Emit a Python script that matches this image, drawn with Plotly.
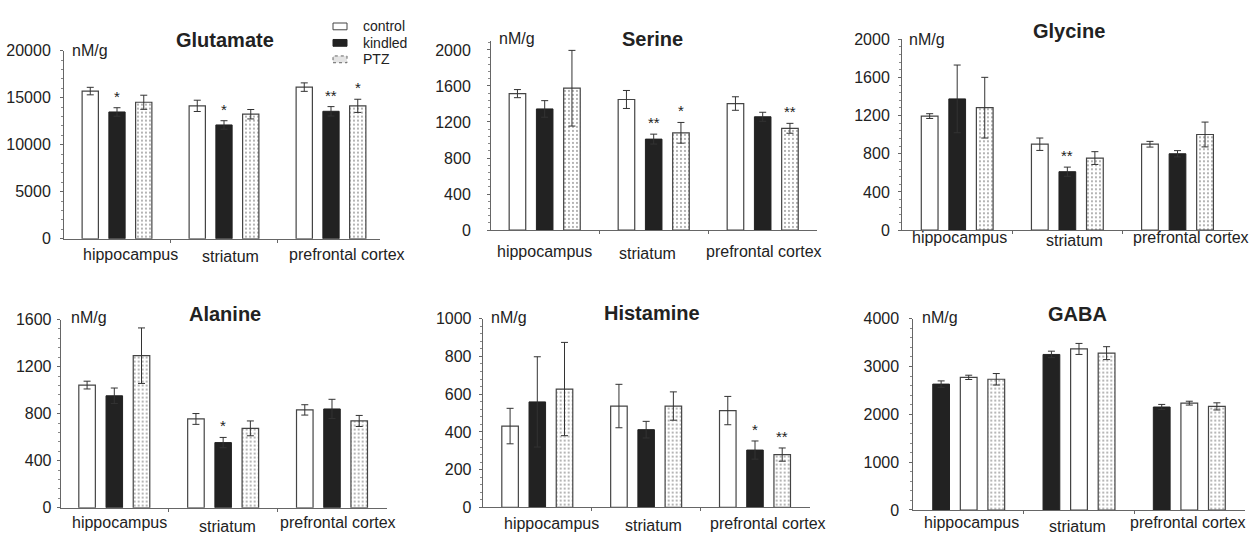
import plotly.graph_objects as go

# ---------------- data ----------------
regions = ["hippocampus", "striatum", "prefrontal cortex"]
groups = ["control", "kindled", "PTZ"]

glutamate_mean = {"control": [15700, 14130, 16120], "kindled": [13480, 12100, 13550], "PTZ": [14510, 13240, 14130]}
glutamate_err = {"control": [400, 600, 450], "kindled": [450, 450, 500], "PTZ": [750, 500, 700]}
glutamate_stars = [("kindled", 0, "*"), ("kindled", 1, "*"), ("kindled", 2, "**"), ("PTZ", 2, "*")]

serine_mean = {"control": [1515, 1450, 1405], "kindled": [1345, 1010, 1258], "PTZ": [1575, 1080, 1130]}
serine_err = {"control": [45, 100, 75], "kindled": [92, 55, 50], "PTZ": [420, 115, 55]}
serine_stars = [("kindled", 1, "**"), ("PTZ", 1, "*"), ("PTZ", 2, "**")]

glycine_mean = {"control": [1195, 900, 900], "kindled": [1375, 612, 800], "PTZ": [1283, 755, 1002]}
glycine_err = {"control": [25, 65, 30], "kindled": [355, 48, 33], "PTZ": [318, 67, 130]}
glycine_stars = [("kindled", 1, "**")]

alanine_mean = {"control": [1043, 755, 832], "kindled": [952, 554, 840], "PTZ": [1293, 675, 738]}
alanine_err = {"control": [33, 46, 44], "kindled": [66, 44, 82], "PTZ": [236, 63, 47]}
alanine_stars = [("kindled", 1, "*")]

histamine_mean = {"control": [431, 537, 513], "kindled": [559, 412, 304], "PTZ": [627, 537, 280]}
histamine_err = {"control": [94, 115, 75], "kindled": [239, 44, 48], "PTZ": [247, 75, 35]}
histamine_stars = [("kindled", 2, "*"), ("PTZ", 2, "**")]

gaba_mean = {"control": [2772, 3366, 2233], "kindled": [2631, 3251, 2152], "PTZ": [2732, 3278, 2165]}
gaba_err = {"control": [45, 115, 40], "kindled": [67, 68, 54], "PTZ": [120, 135, 75]}
gaba_stars = []

# slot order of the groups inside each region cluster
order_default = ["control", "kindled", "PTZ"]
order_gaba = ["kindled", "control", "PTZ"]

# ---------------- layout constants (pixels) ----------------
W, H = 1254, 540
FONT = "Liberation Sans, Arial, Helvetica, sans-serif"
TXT = "#222222"
AX = "#666666"

panels = [
    dict(name="Glutamate", mean=glutamate_mean, err=glutamate_err, stars=glutamate_stars, order=order_default,
         left=64, right=380, c0=117, c2=331, y0=238.3, ytop=44, ymax=20000, ticks=[0, 5000, 10000, 15000, 20000],
         title=(225, 33), unit=(70, 44), lab_x=[130.8, 230.8, 347], lab_y=[255, 257, 255], gap=10.7),
    dict(name="Serine", mean=serine_mean, err=serine_err, stars=serine_stars, order=order_default,
         left=491, right=817, c0=544.7, c2=762.7, y0=229.3, ytop=34, ymax=2100, ticks=[0, 400, 800, 1200, 1600, 2000],
         title=(652, 31.7), unit=(496.7, 31.7), lab_x=[544.7, 647, 764], lab_y=[251.7, 253.3, 251.7], gap=17.7),
    dict(name="Glycine", mean=glycine_mean, err=glycine_err, stars=glycine_stars, order=order_default,
         left=902, right=1233, c0=957.2, c2=1177.5, y0=229.3, ytop=32.3, ymax=2000, ticks=[0, 400, 800, 1200, 1600, 2000],
         title=(1069, 23.3), unit=(906.7, 32.3), lab_x=[959, 1074, 1190.5], lab_y=[237.3, 240, 237.3], gap=10.3),
    dict(name="Alanine", mean=alanine_mean, err=alanine_err, stars=alanine_stars, order=order_default,
         left=60.7, right=387, c0=114.3, c2=332, y0=516, ytop=321.7, ymax=1600, ticks=[0, 400, 800, 1200, 1600],
         title=(224.5, 315.7), unit=(69.3, 320), lab_x=[119, 227.5, 338], lab_y=[531.7, 535, 531.7], gap=7.4),
    dict(name="Histamine", mean=histamine_mean, err=histamine_err, stars=histamine_stars, order=order_default,
         left=482.7, right=810, c0=537.3, c2=755, y0=515.7, ytop=320.7, ymax=1000, ticks=[0, 200, 400, 600, 800, 1000],
         title=(652, 315), unit=(489, 320), lab_x=[551.7, 654, 767.5], lab_y=[532.3, 534, 532.3], gap=9.4),
    dict(name="GABA", mean=gaba_mean, err=gaba_err, stars=gaba_stars, order=order_gaba,
         left=913.3, right=1245, c0=968.7, c2=1189.3, y0=518.3, ytop=320.7, ymax=4000, ticks=[0, 1000, 2000, 3000, 4000],
         title=(1077.5, 315.7), unit=(920, 320), lab_x=[971.3, 1077, 1188.3], lab_y=[531.7, 535, 531.7], gap=11.6),
]

SLOT = 0.25
BW = 0.152

styles = {
    "control": dict(marker=dict(color="white", line=dict(color="#444444", width=1.2))),
    "kindled": dict(marker=dict(color="#222222", line=dict(color="#222222", width=1))),
    "PTZ": dict(marker=dict(color="white", line=dict(color="#444444", width=1.2),
                            pattern=dict(shape=".", size=4, solidity=0.18, fgcolor="#333333", bgcolor="white"))),
}

# legend (custom keys): key box left/right, row centres, text x
LEG_KEY_X = (333, 347)
LEG_ROWS = [19, 36, 53]
LEG_TEXT_X = 361
leg_fill = {"control": "white", "kindled": "#222222", "PTZ": "#e4e4e4"}
leg_line = {"control": "#444444", "kindled": "#222222", "PTZ": "#666666"}

fig = go.Figure()
annotations = []
shapes = []
layout = {}

for pi, p in enumerate(panels):
    sfx = "" if pi == 0 else str(pi + 1)
    xref, yref = "x" + sfx, "y" + sfx
    ppu = (p["c2"] - p["c0"]) / 2.0
    xmin = -(p["c0"] - p["left"]) / ppu
    xmax = 2 + (p["right"] - p["c2"]) / ppu

    for slot, g in enumerate(p["order"]):
        xs = [i + (slot - 1) * SLOT for i in range(len(regions))]
        fig.add_trace(go.Bar(
            x=xs, y=p["mean"][g], width=BW, name=g,
            error_y=dict(type="data", array=p["err"][g], visible=True, color="#333333", thickness=1, width=3.5),
            xaxis=xref, yaxis=yref, showlegend=False,
            **styles[g]))
    for g, ri, s in p["stars"]:
        slot = p["order"].index(g)
        annotations.append(dict(x=ri + (slot - 1) * SLOT, y=p["mean"][g][ri] + p["err"][g][ri],
                                xref=xref, yref=yref, text=s, showarrow=False, yanchor="bottom", yshift=1,
                                font=dict(size=15, color=TXT, family=FONT)))

    layout["xaxis" + sfx] = dict(domain=[p["left"] / W, p["right"] / W], range=[xmin, xmax], anchor=yref,
                                 showline=True, linecolor=AX, linewidth=1, showgrid=False, zeroline=False,
                                 tickvals=[0.5, 1.5], ticks="outside", ticklen=3, tickcolor=AX,
                                 showticklabels=False, fixedrange=True)
    layout["yaxis" + sfx] = dict(domain=[1 - p["y0"] / H, 1 - p["ytop"] / H], range=[0, p["ymax"]], anchor=xref,
                                 showline=True, linecolor=AX, linewidth=1, showgrid=False, zeroline=False,
                                 tickvals=p["ticks"], ticktext=[str(t) for t in p["ticks"]],
                                 ticks="outside", ticklen=3, tickcolor=AX,
                                 minor=dict(dtick=(p["ticks"][1] - p["ticks"][0]) / 5, ticklen=2, tickcolor="#888888",
                                            ticks="outside", showgrid=False),
                                 ticklabelstandoff=int(round(max(0, p["gap"] - 5))),
                                 tickfont=dict(size=16, color=TXT, family=FONT), fixedrange=True)

    annotations.append(dict(x=p["title"][0] / W, y=1 - p["title"][1] / H, xref="paper", yref="paper",
                            text="<b>" + p["name"] + "</b>", showarrow=False, xanchor="center", yanchor="middle",
                            font=dict(size=20, color=TXT, family=FONT)))
    annotations.append(dict(x=p["unit"][0] / W, y=1 - p["unit"][1] / H, xref="paper", yref="paper",
                            text="nM/g", showarrow=False, xanchor="left", yanchor="middle",
                            font=dict(size=16, color=TXT, family=FONT)))
    for ri, r in enumerate(regions):
        annotations.append(dict(x=p["lab_x"][ri] / W, y=1 - p["lab_y"][ri] / H, xref="paper", yref="paper",
                                text=r, showarrow=False, xanchor="center", yanchor="middle",
                                font=dict(size=16, color=TXT, family=FONT)))

for g, yc in zip(groups, LEG_ROWS):
    shapes.append(dict(type="rect", xref="paper", yref="paper",
                       x0=LEG_KEY_X[0] / W, x1=LEG_KEY_X[1] / W, y0=1 - (yc + 3.5) / H, y1=1 - (yc - 3.5) / H,
                       fillcolor=leg_fill[g], line=dict(color=leg_line[g], width=1,
                                                          dash="dot" if g == "PTZ" else "solid")))
    annotations.append(dict(x=LEG_TEXT_X / W, y=1 - yc / H, xref="paper", yref="paper", text=g,
                            showarrow=False, xanchor="left", yanchor="middle",
                            font=dict(size=14, color=TXT, family=FONT)))

fig.update_layout(
    width=W, height=H, margin=dict(l=0, r=0, t=0, b=0),
    paper_bgcolor="white", plot_bgcolor="white", barmode="overlay",
    font=dict(family=FONT, color=TXT), showlegend=False,
    annotations=annotations, shapes=shapes,
    **layout,
)

fig.write_html("out.html")
